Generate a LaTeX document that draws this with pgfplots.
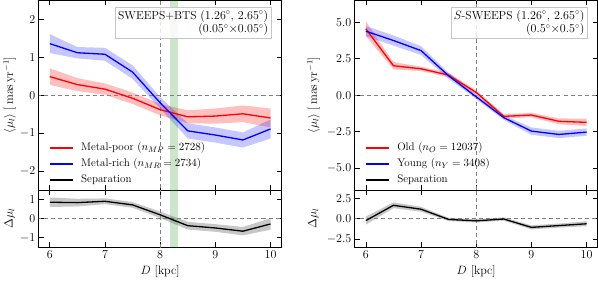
\documentclass[border=0pt]{standalone}
\usepackage{pgfplots}
\pgfplotsset{compat=1.18}
\usepackage{pgfplotstable}
\usepgfplotslibrary{fillbetween}

\definecolor{mplgreen}{RGB}{0,128,0}

\pgfplotstableread{
x y e
6 0.49 0.22
6.5 0.28 0.17
7 0.16 0.15
7.5 -0.08 0.15
8 -0.38 0.15
8.5 -0.57 0.17
9 -0.55 0.2
9.5 -0.49 0.22
10 -0.6 0.25
}\mpoor
\pgfplotstableread{
x y e
6 1.36 0.25
6.5 1.12 0.15
7 1.08 0.17
7.5 0.61 0.18
8 -0.2 0.15
8.5 -0.94 0.2
9 -1.05 0.2
9.5 -1.18 0.2
10 -0.89 0.25
}\mrich
\pgfplotstableread{
x y e
6 0.86 0.25
6.5 0.84 0.2
7 0.91 0.15
7.5 0.72 0.15
8 0.2 0.17
8.5 -0.37 0.2
9 -0.49 0.2
9.5 -0.66 0.22
10 -0.28 0.3
}\sepleft
\pgfplotstableread{
x y e
6 4.55 0.5
6.5 2.02 0.25
7 1.81 0.15
7.5 1.38 0.15
8 0.19 0.15
8.5 -1.45 0.15
9 -1.36 0.15
9.5 -1.79 0.2
10 -1.86 0.25
}\old
\pgfplotstableread{
x y e
6 4.39 0.35
6.5 3.75 0.35
7 3.06 0.3
7.5 1.33 0.2
8 -0.11 0.15
8.5 -1.54 0.15
9 -2.46 0.25
9.5 -2.69 0.25
10 -2.53 0.25
}\young
\pgfplotstableread{
x y e
6 -0.24 0.5
6.5 1.63 0.35
7 1.15 0.3
7.5 -0.1 0.2
8 -0.27 0.2
8.5 -0.05 0.2
9 -1.07 0.25
9.5 -0.85 0.25
10 -0.63 0.3
}\sepright

\pgfplotsset{
  base/.style={
    scale only axis, width=242pt, anchor=south west,
    xmin=5.8, xmax=10.2, xtick={6,7,8,9,10},
    tick align=inside, major tick length=5pt,
    tick style={black, line width=0.6pt},
    axis line style={line width=0.8pt},
    tick label style={font=\fontsize{12}{14}\selectfont},
    label style={font=\fontsize{12}{14}\selectfont},
  },
  refline/.style={gray, line width=0.6pt, dash pattern=on 4pt off 3pt, forget plot},
}
\tikzset{legtext/.style={anchor=west, inner sep=0pt, font=\fontsize{11}{13}\selectfont}}

% manual legend: #1 first text, #2 second text
\newcommand{\manlegend}[2]{%
  \draw[red, line width=1.3pt] (axis description cs:0.045,0.222) -- (axis description cs:0.14,0.222);
  \node[legtext] at (axis description cs:0.174,0.222) {#1};
  \draw[blue, line width=1.3pt] (axis description cs:0.045,0.138) -- (axis description cs:0.14,0.138);
  \node[legtext] at (axis description cs:0.174,0.138) {#2};
  \draw[black, line width=1.6pt] (axis description cs:0.045,0.053) -- (axis description cs:0.14,0.053);
  \node[legtext] at (axis description cs:0.174,0.053) {Separation};
}

\begin{document}
\begin{tikzpicture}

% ---------------- left main
\begin{axis}[base, at={(39pt,91pt)}, height=189pt,
  ymin=-2.5, ymax=2.5, ytick={-2,-1,0,1,2}, xticklabels={},
  ylabel={$\langle\mu_l\rangle\ [\,\mathrm{mas\,yr^{-1}}]$},
  ylabel style={at={(axis description cs:-0.12,0.5)}, anchor=center}]
\addplot[fill=mplgreen, fill opacity=0.2, draw=none, forget plot] coordinates {(8.17,-3) (8.32,-3) (8.32,3) (8.17,3)} -- cycle;
\addplot[refline] coordinates {(8,-3) (8,3)};
\addplot[refline] coordinates {(5,0) (11,0)};
\addplot[name path=lmpu, draw=none, forget plot] table[x=x, y expr=\thisrow{y}+\thisrow{e}] {\mpoor};
\addplot[name path=lmpl, draw=none, forget plot] table[x=x, y expr=\thisrow{y}-\thisrow{e}] {\mpoor};
\addplot[fill=red, fill opacity=0.25, draw=none, forget plot] fill between[of=lmpu and lmpl];
\addplot[name path=lmru, draw=none, forget plot] table[x=x, y expr=\thisrow{y}+\thisrow{e}] {\mrich};
\addplot[name path=lmrl, draw=none, forget plot] table[x=x, y expr=\thisrow{y}-\thisrow{e}] {\mrich};
\addplot[fill=blue, fill opacity=0.22, draw=none, forget plot] fill between[of=lmru and lmrl];
\addplot[red, line width=1.3pt, forget plot] table[x=x,y=y] {\mpoor};
\addplot[blue, line width=1.3pt, forget plot] table[x=x,y=y] {\mrich};
\manlegend{Metal-poor ($n_{MP}=2728$)}{Metal-rich ($n_{MR}=2734$)}
\node[anchor=north east, draw=gray!45, line width=0.6pt, fill=white, fill opacity=0.8, text opacity=1,
  align=right, inner sep=2.5pt, font=\fontsize{11.5}{13.5}\selectfont] at (axis description cs:0.957,0.963)
  {SWEEPS+BTS $(1.26^\circ,\,2.65^\circ)$\\$(0.05^\circ{\times}0.05^\circ)$};
\end{axis}

% ---------------- left lower
\begin{axis}[base, at={(39pt,34pt)}, height=57pt,
  ymin=-1.5, ymax=1.5, ytick={-1,0,1},
  xlabel={$D$ [kpc]},
  ylabel={$\Delta\mu_l$},
  ylabel style={at={(axis description cs:-0.12,0.5)}, anchor=center}]
\addplot[fill=mplgreen, fill opacity=0.2, draw=none, forget plot] coordinates {(8.17,-3) (8.32,-3) (8.32,3) (8.17,3)} -- cycle;
\addplot[refline] coordinates {(8,-3) (8,3)};
\addplot[refline] coordinates {(5,0) (11,0)};
\addplot[name path=lspu, draw=none, forget plot] table[x=x, y expr=\thisrow{y}+\thisrow{e}] {\sepleft};
\addplot[name path=lspl, draw=none, forget plot] table[x=x, y expr=\thisrow{y}-\thisrow{e}] {\sepleft};
\addplot[fill=black, fill opacity=0.22, draw=none, forget plot] fill between[of=lspu and lspl];
\addplot[black, line width=1.3pt] table[x=x,y=y] {\sepleft};
\end{axis}

% ---------------- right main
\begin{axis}[base, at={(354pt,91pt)}, height=189pt,
  ymin=-6.5, ymax=6.5, ytick={-5,-2.5,0,2.5,5}, xticklabels={},
  yticklabel style={/pgf/number format/.cd, fixed, fixed zerofill, precision=1},
  ylabel={$\langle\mu_l\rangle\ [\,\mathrm{mas\,yr^{-1}}]$},
  ylabel style={at={(axis description cs:-0.17,0.5)}, anchor=center}]
\addplot[refline] coordinates {(8,-7) (8,7)};
\addplot[refline] coordinates {(5,0) (11,0)};
\addplot[name path=rolu, draw=none, forget plot] table[x=x, y expr=\thisrow{y}+\thisrow{e}] {\old};
\addplot[name path=roll, draw=none, forget plot] table[x=x, y expr=\thisrow{y}-\thisrow{e}] {\old};
\addplot[fill=red, fill opacity=0.25, draw=none, forget plot] fill between[of=rolu and roll];
\addplot[name path=ryou, draw=none, forget plot] table[x=x, y expr=\thisrow{y}+\thisrow{e}] {\young};
\addplot[name path=ryol, draw=none, forget plot] table[x=x, y expr=\thisrow{y}-\thisrow{e}] {\young};
\addplot[fill=blue, fill opacity=0.22, draw=none, forget plot] fill between[of=ryou and ryol];
\addplot[red, line width=1.3pt, forget plot] table[x=x,y=y] {\old};
\addplot[blue, line width=1.3pt, forget plot] table[x=x,y=y] {\young};
\manlegend{Old ($n_{O}=12037$)}{Young ($n_{Y}=3408$)}
\node[anchor=north east, draw=gray!45, line width=0.6pt, fill=white, fill opacity=0.8, text opacity=1,
  align=right, inner sep=2.5pt, font=\fontsize{11.5}{13.5}\selectfont] at (axis description cs:0.957,0.963)
  {$S$-SWEEPS $(1.26^\circ,\,2.65^\circ)$\\$(0.5^\circ{\times}0.5^\circ)$};
\end{axis}

% ---------------- right lower
\begin{axis}[base, at={(354pt,34pt)}, height=57pt,
  ymin=-3.5, ymax=3.5, ytick={-2.5,0,2.5},
  yticklabel style={/pgf/number format/.cd, fixed, fixed zerofill, precision=1},
  xlabel={$D$ [kpc]},
  ylabel={$\Delta\mu_l$},
  ylabel style={at={(axis description cs:-0.17,0.5)}, anchor=center}]
\addplot[refline] coordinates {(8,-4) (8,4)};
\addplot[refline] coordinates {(5,0) (11,0)};
\addplot[name path=rspu, draw=none, forget plot] table[x=x, y expr=\thisrow{y}+\thisrow{e}] {\sepright};
\addplot[name path=rspl, draw=none, forget plot] table[x=x, y expr=\thisrow{y}-\thisrow{e}] {\sepright};
\addplot[fill=black, fill opacity=0.22, draw=none, forget plot] fill between[of=rspu and rspl];
\addplot[black, line width=1.3pt] table[x=x,y=y] {\sepright};
\end{axis}
\end{tikzpicture}
\end{document}
